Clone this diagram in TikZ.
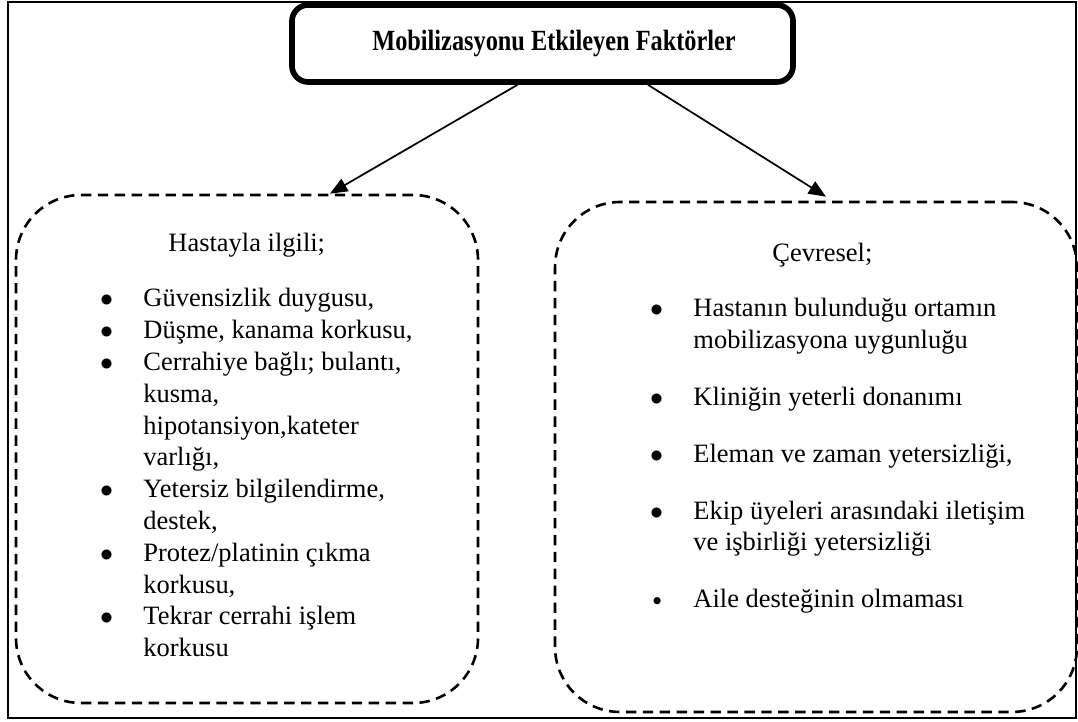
\documentclass[tikz,border=0pt]{standalone}
\usepackage{fontspec}
\setmainfont{Liberation Serif}
\newfontfamily\titlefont[FakeStretch=0.83]{Liberation Serif}
\usetikzlibrary{arrows.meta,calc}
\newcommand{\bul}{\makebox[20pt][l]{$\bullet$}}
\newcommand{\smallbul}{\makebox[20pt][l]{\hspace{1.2pt}\raisebox{0.8pt}{\footnotesize$\bullet$}}}
\tikzset{
    titlebox/.style={
        rectangle,
        draw,
        line width=2.6pt,
        rounded corners=7.5pt,
        minimum width=230.9pt,
        minimum height=35.5pt,
        font=\titlefont\bfseries\fontsize{13.5}{16}\selectfont
    },
    dashbox/.style={
        rectangle,
        draw,
        dash pattern=on 4.8pt off 3pt,
        line width=1.2pt,
        rounded corners=30pt
    },
    listtext/.style={
        anchor=base west,
        inner sep=0pt,
        font=\fontsize{12.2}{14.65}\selectfont
    },
    arrow/.style={
        -{Triangle[length=8pt,width=6.5pt]},
        line width=0.8pt
    }
}

\begin{document}
\begin{tikzpicture}[x=0.4608pt,y=-0.4608pt]
    \useasboundingbox (0,0) rectangle (1078,722);
    \draw[line width=1pt] (8,2) rectangle (1076,718);

    \node[titlebox] (title) at (542.5,43.5) {\hspace*{10.6pt}Mobilizasyonu Etkileyen Faktörler};
    \node[dashbox, minimum width=212.9pt, minimum height=234.1pt] (hasta) at (247,449) {};
    \node[dashbox, minimum width=240.5pt, minimum height=235pt] (cevre) at (816,457) {};

    \draw[arrow] ($(title.south)+(-25,0)$) -- ($(hasta.north)+(83,0)$);
    \draw[arrow] ($(title.south)+(105.5,0)$) -- ($(cevre.north)+(10,-4)$);

    % hasta ile ilgili faktorler
    \node[listtext] (hastabaslik) at (168,252) {Hastayla ilgili;};
    \node[listtext] (hastaliste) at (99.6,307) {\begin{tabular}[t]{@{}l@{}l@{}}
        \bul & Güvensizlik duygusu,\\
        \bul & Düşme, kanama korkusu,\\
        \bul & Cerrahiye bağlı; bulantı,\\
             & kusma,\\
             & hipotansiyon,kateter\\
             & varlığı,\\
        \bul & Yetersiz bilgilendirme,\\
             & destek,\\
        \bul & Protez/platinin çıkma\\
             & korkusu,\\
        \bul & Tekrar cerrahi işlem\\
             & korkusu
    \end{tabular}};

    % cevresel faktorler
    \node[listtext] (cevrebaslik) at (772,262) {Çevresel;};
    \node[listtext] (cevreliste) at (649.6,317) {\begin{tabular}[t]{@{}l@{}l@{}}
        \bul & Hastanın bulunduğu ortamın\\
             & mobilizasyona uygunluğu\\[11.5pt]
        \bul & Kliniğin yeterli donanımı\\[11.5pt]
        \bul & Eleman ve zaman yetersizliği,\\[11.5pt]
        \bul & Ekip üyeleri arasındaki iletişim\\
             & ve işbirliği yetersizliği\\[11.5pt]
        \smallbul & Aile desteğinin olmaması
    \end{tabular}};
\end{tikzpicture}
\end{document}
